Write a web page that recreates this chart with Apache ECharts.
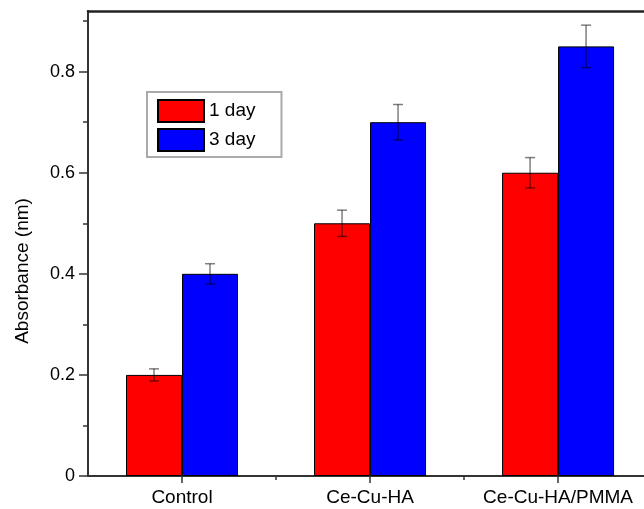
<!DOCTYPE html>
<html>
<head>
<meta charset="utf-8">
<script src="https://cdn.jsdelivr.net/npm/echarts@6/dist/echarts.min.js"></script>
<style>html,body{margin:0;padding:0;background:#fff}#c{width:644px;height:509px}</style>
</head>
<body>
<div id="c"></div>
<script>
const categories = ['Control', 'Ce-Cu-HA', 'Ce-Cu-HA/PMMA'];
const seriesNames = ['1 day', '3 day'];
const day1 = [0.20, 0.50, 0.60];
const day3 = [0.40, 0.70, 0.85];
const day1Err = [0.012, 0.026, 0.030];
const day3Err = [0.020, 0.035, 0.042];
const yMajorTicks = [0, 0.2, 0.4, 0.6, 0.8];
const yMinorTicks = [0.1, 0.3, 0.5, 0.7, 0.9];

const FONT = 'Liberation Sans';
const BAR_W = 56;

const catIdx = categories.map((c, i) => i);
const xMinorTicks = catIdx.slice(0, -1).map(i => i + 0.5);
const d1 = day1.map((v, i) => [i, v]);
const d3 = day3.map((v, i) => [i, v]);
const errData = [];
day1.forEach((v, i) => errData.push([i, v, day1Err[i], -1]));
day3.forEach((v, i) => errData.push([i, v, day3Err[i], 1]));

const chart = echarts.init(document.getElementById('c'));
chart.setOption({
  animation: false,
  backgroundColor: '#fff',
  grid: { left: 88, top: 11, right: 0, bottom: 33 },
  legend: {
    orient: 'vertical', left: 147, top: 92,
    data: seriesNames,
    itemWidth: 46, itemHeight: 22, itemGap: 5,
    padding: [7, 26, 5, 10],
    borderColor: '#aaa', borderWidth: 2, backgroundColor: '#fff',
    icon: 'rect',
    textStyle: { fontFamily: FONT, fontSize: 19, color: '#000' }
  },
  xAxis: [
    {
      type: 'value', min: -0.5, max: 2.457,
      splitLine: { show: false },
      axisLine: { show: true, onZero: false, lineStyle: { color: '#333', width: 2 } },
      axisTick: { show: true, length: 7, customValues: catIdx, lineStyle: { color: '#333', width: 1.5 } },
      axisLabel: { customValues: catIdx, formatter: v => categories[Math.round(v)], fontFamily: FONT, fontSize: 19, color: '#000', margin: 12 }
    },
    {
      type: 'value', min: -0.5, max: 2.457, position: 'bottom',
      splitLine: { show: false },
      axisLine: { show: false, onZero: false },
      axisTick: { show: true, length: 4, customValues: xMinorTicks, lineStyle: { color: '#333', width: 1.5 } },
      axisLabel: { show: false }
    },
    {
      type: 'value', min: -0.5, max: 2.457, position: 'top',
      splitLine: { show: false },
      axisLine: { show: true, onZero: false, lineStyle: { color: '#222', width: 2.5 } },
      axisTick: { show: false },
      axisLabel: { show: false }
    }
  ],
  yAxis: [
    {
      type: 'value', min: 0, max: 0.92,
      splitLine: { show: false },
      axisLine: { show: true, onZero: false, lineStyle: { color: '#333', width: 2 } },
      axisTick: { show: true, length: 9, customValues: yMajorTicks, lineStyle: { color: '#333', width: 1.5 } },
      axisLabel: { customValues: yMajorTicks, fontFamily: FONT, fontSize: 18, color: '#000', margin: 13 }
    },
    {
      type: 'value', min: 0, max: 0.92, position: 'left',
      splitLine: { show: false },
      axisLine: { show: false, onZero: false },
      axisTick: { show: true, length: 5, customValues: yMinorTicks, lineStyle: { color: '#333', width: 1.5 } },
      axisLabel: { show: false }
    }
  ],
  graphic: [{
    type: 'text', x: 23, y: 271, rotation: Math.PI / 2,
    style: { text: 'Absorbance (nm)', fontFamily: FONT, fontSize: 19, fill: '#000', align: 'center', verticalAlign: 'middle' }
  }],
  series: [
    {
      name: seriesNames[0], type: 'bar', data: d1, barWidth: BAR_W, barGap: '0%',
      itemStyle: { color: '#ff0000', borderColor: '#000', borderWidth: 1 }
    },
    {
      name: seriesNames[1], type: 'bar', data: d3, barWidth: BAR_W, barGap: '0%',
      itemStyle: { color: '#0000ff', borderColor: '#000', borderWidth: 1 }
    },
    {
      type: 'custom', data: errData, z: 10,
      renderItem: function (params, api) {
        const c = api.value(0), v = api.value(1), e = api.value(2), side = api.value(3);
        const top = api.coord([c, v + e]);
        const bot = api.coord([c, v - e]);
        const x = top[0] + side * BAR_W / 2;
        const st = { stroke: 'rgba(0,0,0,0.5)', lineWidth: 1.5 };
        return {
          type: 'group',
          children: [
            { type: 'line', shape: { x1: x, y1: top[1], x2: x, y2: bot[1] }, style: st },
            { type: 'line', shape: { x1: x - 5, y1: top[1], x2: x + 5, y2: top[1] }, style: st },
            { type: 'line', shape: { x1: x - 5, y1: bot[1], x2: x + 5, y2: bot[1] }, style: st }
          ]
        };
      }
    }
  ]
});
</script>
</body>
</html>
